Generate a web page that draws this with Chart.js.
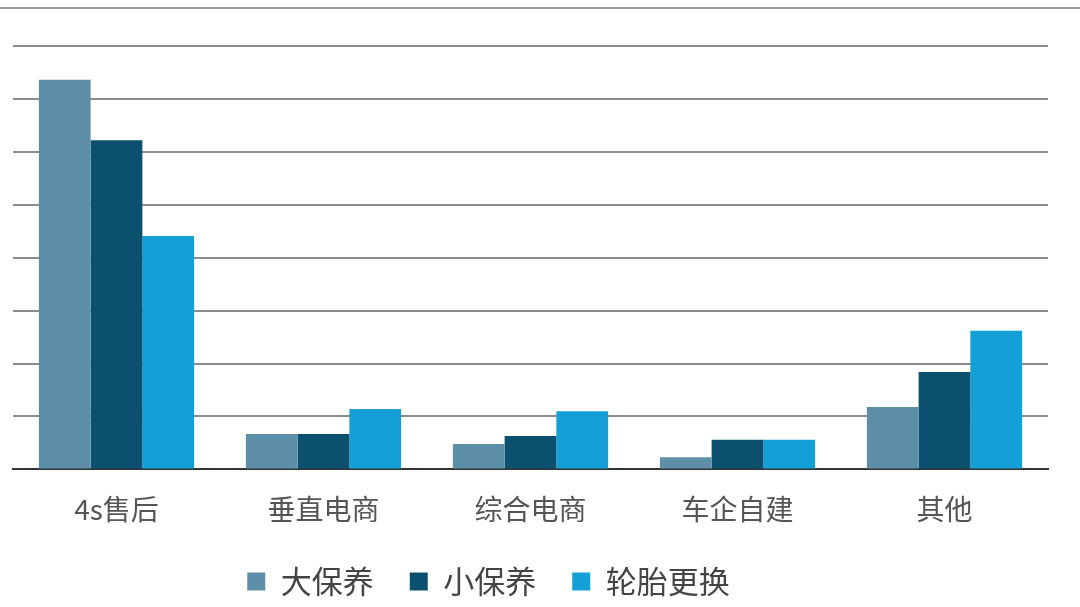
<!DOCTYPE html>
<html>
<head>
<meta charset="utf-8">
<script src="https://cdn.jsdelivr.net/npm/chart.js@4.4.1/dist/chart.umd.min.js"></script>
<style>
  html, body { margin: 0; padding: 0; background: #fff; }
  #wrap { position: relative; width: 1080px; height: 607px; }
  #topline { position: absolute; left: 0; top: 7px; width: 1080px; height: 2px; background: #9a9a9a; }
</style>
</head>
<body>
<div id="wrap">
  <div id="topline"></div>
  <canvas id="chart" width="1080" height="607"></canvas>
</div>
<script>
// channel categories
const categories = ['4s售后', '垂直电商', '综合电商', '车企自建', '其他'];
// series values (one unit per gridline)
const bigService   = [7.36, 0.67, 0.48, 0.23, 1.18];
const smallService = [6.22, 0.67, 0.63, 0.56, 1.84];
const tireChange   = [4.41, 1.14, 1.10, 0.56, 2.62];
const seriesNames  = ['大保养', '小保养', '轮胎更换'];

const colors = ['#5d8fa9', '#0c5070', '#159fd7'];
const font = '"Noto Sans CJK SC", "Noto Sans", sans-serif';

// legend in the original sits a bit left of centre and close to the bottom
const legendShift = {
  id: 'legendShift',
  afterUpdate(chart) {
    chart.legend.right -= 84;
    chart.legend.top -= 11;
  },
};

new Chart(document.getElementById('chart'), {
  type: 'bar',
  data: {
    labels: categories,
    datasets: [bigService, smallService, tireChange].map((d, i) => ({
      label: seriesNames[i],
      data: d,
      backgroundColor: colors[i],
      borderWidth: 0,
      barPercentage: 1,
      categoryPercentage: 0.75,
    })),
  },
  options: {
    responsive: false,
    animation: false,
    layout: { padding: { left: 13, right: 32, top: 46, bottom: 0 } },
    plugins: {
      tooltip: { enabled: false },
      legend: {
        position: 'bottom',
        maxHeight: 66,
        labels: {
          font: { family: font, size: 31 },
          color: '#444',
          boxWidth: 18,
          boxHeight: 18,
          padding: 36,
        },
      },
    },
    scales: {
      x: {
        grid: { display: false },
        border: { color: '#333', width: 2 },
        ticks: { font: { family: font, size: 28 }, color: '#555', padding: 15 },
      },
      y: {
        min: 0,
        max: 8,
        ticks: { display: false, stepSize: 1 },
        border: { display: false },
        grid: {
          drawTicks: false,
          lineWidth: 2,
          color: ctx => ctx.tick && ctx.tick.value === 0 ? '#333' : '#8c8c8c',
        },
      },
    },
  },
  plugins: [legendShift],
});
</script>
</body>
</html>
